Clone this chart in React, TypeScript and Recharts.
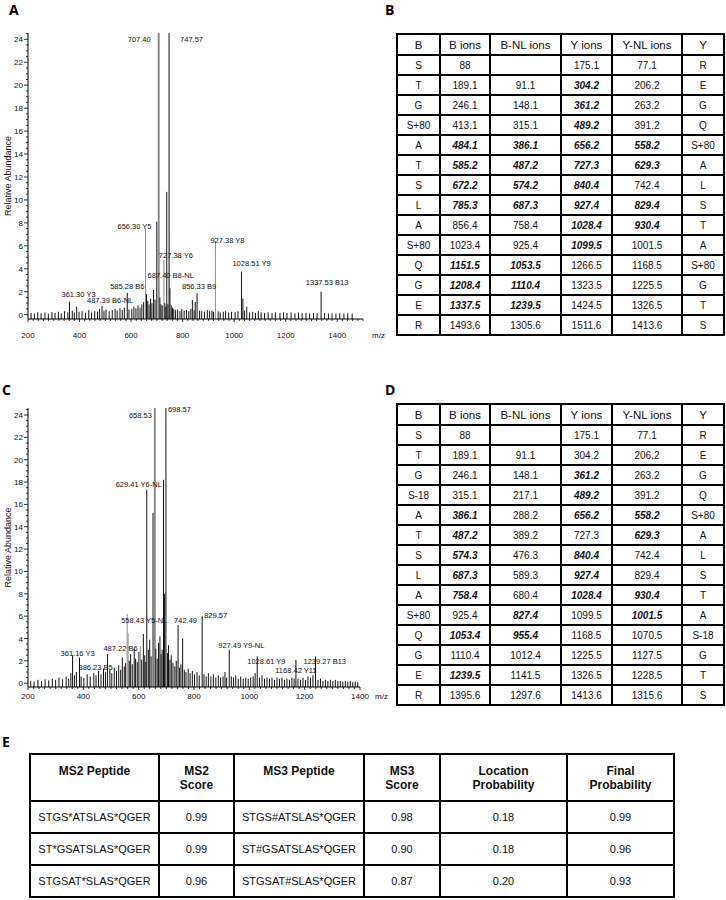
import React from "react";
import { ComposedChart, Bar, XAxis, YAxis, LabelList } from "recharts";

const FONT = "'Liberation Sans', Arial, sans-serif";
const LETTER_FONT = "'Open Sans', 'Noto Sans', sans-serif";

// ---------- panel A spectrum (m/z, relative abundance) ----------
const A_PEAKS: [number, number][] = [
  [361.3, 1.13], [389, 0.7], [487.39, 0.75], [585.28, 1.9], [656.3, 7.45],
  [660, 1.8], [687.4, 2.15], [700, 8.1], [707.4, 30], [727.38, 4.77],
  [738.6, 10.7], [747.57, 30], [751, 2.3], [838, 1.27], [856.33, 1.86],
  [927.38, 6.37], [1028.51, 3.75], [1049, 0.7], [1094, 0.3], [1337.53, 2.0],
];
const A_NOISE: [number, number][] = [
  [212, 0.15], [225, 0.1], [238, 0.2], [251, 0.12], [266, 0.18], [279, 0.1], [293, 0.22],
  [305, 0.15], [318, 0.25], [329, 0.12], [342, 0.3], [355, 0.2], [372, 0.35], [380, 0.2],
  [398, 0.25], [410, 0.3], [423, 0.18], [436, 0.4], [447, 0.2], [459, 0.3], [470, 0.25],
  [478, 0.5], [495, 0.35], [503, 0.45], [515, 0.3], [527, 0.4], [538, 0.5], [546, 0.35],
  [557, 0.55], [566, 0.4], [574, 0.6], [592, 0.45], [603, 0.5], [611, 0.7], [619, 0.55],
  [627, 0.8], [635, 0.6], [642, 0.9], [649, 1.1], [665, 1.2], [670, 0.9], [676, 1.4],
  [681, 1.0], [693, 1.3], [712, 1.5], [716, 0.9], [721, 0.8], [731, 1.0], [735, 0.7],
  [743, 0.9], [756, 0.8], [761, 0.6], [766, 0.5], [773, 0.4], [781, 0.45], [790, 0.3],
  [797, 0.5], [806, 0.35], [815, 0.4], [824, 0.3], [832, 0.5], [845, 0.4], [849, 1.1],
  [866, 0.35], [874, 0.3], [885, 0.25], [896, 0.4], [905, 0.3], [914, 0.35], [920, 0.25],
  [938, 0.3], [946, 0.2], [958, 0.25], [967, 0.3], [979, 0.2], [990, 0.25], [1004, 0.2],
  [1015, 0.3], [1034, 1.4], [1040, 0.35], [1060, 0.2], [1072, 0.25], [1083, 0.15],
  [1105, 0.2], [1118, 0.15], [1132, 0.2], [1147, 0.15], [1160, 0.2], [1178, 0.15],
  [1192, 0.2], [1205, 0.15], [1221, 0.2], [1236, 0.12], [1250, 0.18], [1264, 0.12],
  [1279, 0.15], [1293, 0.1], [1308, 0.15], [1322, 0.12], [1351, 0.15], [1366, 0.1],
  [1380, 0.12], [1395, 0.1], [1410, 0.12], [1426, 0.1], [1441, 0.12], [1458, 0.1],
];
const A_LABELS: [number, string][] = [
  [361.3, "361.30 Y3"], [487.39, "487.39 B6-NL"], [585.28, "585.28 B6"],
  [656.3, "656.30 Y5"], [687.4, "687.40 B8-NL"], [707.4, "707.40"],
  [727.38, "727.38 Y6"], [747.57, "747.57"], [856.33, "856.33 B9"],
  [927.38, "927.38 Y8"], [1028.51, "1028.51 Y9"], [1337.53, "1337.53 B13"],
];
const A_GREY = [656.3, 707.4, 727.38, 927.38];
const A_WIDE = [707.4];

// ---------- panel C spectrum ----------
const C_PEAKS: [number, number][] = [
  [361.16, 2.5], [386.23, 2.3], [487.22, 2.6], [558.43, 6.2], [562, 4.46],
  [617, 4.4], [629.41, 17.3], [652, 15.25], [658.53, 30], [689.8, 18.2],
  [692, 7.7], [694, 8.0], [698.57, 30], [742.49, 5.2], [759, 4.0],
  [829.57, 6.0], [927.49, 3.0], [1028.61, 2.4], [1168.42, 2.1], [1239.27, 2.4],
];
const C_NOISE: [number, number][] = [
  [210, 0.2], [222, 0.15], [236, 0.3], [249, 0.2], [262, 0.35], [275, 0.25], [288, 0.4],
  [300, 0.3], [312, 0.5], [325, 0.35], [338, 0.6], [347, 0.4], [355, 0.9], [368, 0.7],
  [375, 1.0], [392, 0.6], [402, 0.5], [414, 0.8], [425, 0.6], [438, 0.9], [446, 0.7],
  [455, 1.1], [464, 0.8], [473, 1.3], [480, 1.0], [496, 1.2], [503, 0.9], [512, 1.4],
  [520, 1.1], [528, 1.6], [535, 1.2], [541, 2.3], [548, 1.5], [553, 1.8], [566, 2.0],
  [571, 2.6], [577, 1.7], [584, 3.1], [589, 2.2], [595, 1.9], [601, 2.8], [606, 3.3],
  [611, 2.1], [622, 2.5], [626, 1.9], [635, 3.0], [640, 3.9], [645, 2.4], [662, 3.1],
  [667, 2.2], [672, 3.6], [677, 4.2], [681, 2.6], [685, 3.0], [704, 2.7], [708, 3.4],
  [713, 2.1], [718, 2.5], [724, 1.8], [731, 1.5], [736, 2.0], [748, 1.4], [753, 1.7],
  [765, 1.2], [771, 1.0], [779, 1.3], [786, 0.9], [794, 1.1], [802, 0.8], [811, 1.0],
  [819, 0.7], [836, 0.8], [844, 0.6], [852, 0.9], [861, 0.6], [870, 0.8], [879, 0.5],
  [888, 0.7], [896, 0.5], [905, 0.6], [912, 1.0], [918, 0.5], [935, 0.6], [943, 0.5],
  [951, 0.7], [960, 0.4], [969, 0.6], [978, 0.4], [987, 0.5], [996, 0.4], [1005, 0.5],
  [1014, 0.6], [1021, 0.9], [1037, 0.5], [1046, 0.7], [1055, 0.4], [1064, 0.5],
  [1073, 0.4], [1082, 0.5], [1091, 0.3], [1100, 0.5], [1109, 0.4], [1118, 0.5],
  [1127, 0.3], [1136, 0.4], [1145, 0.3], [1154, 0.5], [1162, 0.4], [1176, 0.4],
  [1185, 0.3], [1194, 0.5], [1203, 0.3], [1212, 0.6], [1221, 0.5], [1230, 0.7],
  [1248, 0.3], [1257, 0.4], [1266, 0.2], [1275, 0.3], [1284, 0.2], [1293, 0.3],
  [1302, 0.2], [1311, 0.3], [1320, 0.2], [1329, 0.2], [1338, 0.15], [1347, 0.2],
  [1356, 0.15], [1365, 0.2], [1374, 0.1], [1383, 0.15], [1392, 0.1],
];
const C_LABELS: [number, string][] = [
  [361.16, "361.16 Y3"], [386.23, "386.23 B5"], [487.22, "487.22 B6"],
  [558.43, "558.43 Y5-NL"], [629.41, "629.41 Y6-NL"], [658.53, "658.53"],
  [698.57, "698.57"], [742.49, "742.49"], [829.57, "829.57"],
  [927.49, "927.49 Y9-NL"], [1028.61, "1028.61 Y9"], [1168.42, "1168.42 Y11"],
  [1239.27, "1239.27 B13"],
];
const C_GREY = [558.43, 562, 606, 658.53, 676];
const C_WIDE = [658.53];

const X_MAJOR = [200, 400, 600, 800, 1000, 1200, 1400];
const Y_MAJOR = [0, 2, 4, 6, 8, 10, 12, 14, 16, 18, 20, 22, 24];

// label placement: [anchor, dx, dy] relative to the peak top
const A_LABEL_POS: Record<string, [string, number, number]> = {
  "361.30 Y3": ["start", -8, -5],
  "487.39 B6-NL": ["start", -15, -3],
  "585.28 B6": ["middle", 0, -4],
  "656.30 Y5": ["end", 6, 0],
  "687.40 B8-NL": ["start", -6, -12],
  "707.40": ["end", -8, 9],
  "727.38 Y6": ["start", -5, -2],
  "747.57": ["start", 11, 9],
  "856.33 B9": ["middle", 2, -4],
  "927.38 Y8": ["start", -5, 1],
  "1028.51 Y9": ["start", -9, -6],
  "1337.53 B13": ["middle", 6, -7],
};
const C_LABEL_POS: Record<string, [string, number, number]> = {
  "361.16 Y3": ["start", -12, 1],
  "386.23 B5": ["start", -1, 12],
  "487.22 B6": ["start", -4, -3],
  "558.43 Y5-NL": ["start", -6, 9],
  "629.41 Y6-NL": ["middle", -8, -3],
  "658.53": ["end", -3, 10],
  "698.57": ["start", 2, 4],
  "742.49": ["start", -4, -2],
  "829.57": ["start", 2, 2],
  "927.49 Y9-NL": ["start", -11, -2],
  "1028.61 Y9": ["start", -10, 8],
  "1168.42 Y11": ["middle", 0, 13],
  "1239.27 B13": ["start", -12, 8],
};

// ---------- tables B / D (values ending in * are matched ions, set bold italic) ----------
const ION_HEAD = ["B", "B ions", "B-NL ions", "Y ions", "Y-NL ions", "Y"];

const B_RES = ["S", "T", "G", "S+80", "A", "T", "S", "L", "A", "S+80", "Q", "G", "E", "R"];
const B_BION = ["88", "189.1", "246.1", "413.1", "484.1*", "585.2*", "672.2*", "785.3*", "856.4", "1023.4", "1151.5*", "1208.4*", "1337.5*", "1493.6"];
const B_BNL = ["", "91.1", "148.1", "315.1", "386.1*", "487.2*", "574.2*", "687.3*", "758.4", "925.4", "1053.5*", "1110.4*", "1239.5*", "1305.6"];
const B_YION = ["175.1", "304.2*", "361.2*", "489.2*", "656.2*", "727.3*", "840.4*", "927.4*", "1028.4*", "1099.5*", "1266.5", "1323.5", "1424.5", "1511.6"];
const B_YNL = ["77.1", "206.2", "263.2", "391.2", "558.2*", "629.3*", "742.4", "829.4*", "930.4*", "1001.5", "1168.5", "1225.5", "1326.5", "1413.6"];
const B_YRES = ["R", "E", "G", "Q", "S+80", "A", "L", "S", "T", "A", "S+80", "G", "T", "S"];

const D_RES = ["S", "T", "G", "S-18", "A", "T", "S", "L", "A", "S+80", "Q", "G", "E", "R"];
const D_BION = ["88", "189.1", "246.1", "315.1", "386.1*", "487.2*", "574.3*", "687.3*", "758.4*", "925.4", "1053.4*", "1110.4", "1239.5*", "1395.6"];
const D_BNL = ["", "91.1", "148.1", "217.1", "288.2", "389.2", "476.3", "589.3", "680.4", "827.4*", "955.4*", "1012.4", "1141.5", "1297.6"];
const D_YION = ["175.1", "304.2", "361.2*", "489.2*", "656.2*", "727.3", "840.4*", "927.4*", "1028.4*", "1099.5", "1168.5", "1225.5", "1326.5", "1413.6"];
const D_YNL = ["77.1", "206.2", "263.2", "391.2", "558.2*", "629.3*", "742.4", "829.4", "930.4*", "1001.5*", "1070.5", "1127.5", "1228.5", "1315.6"];
const D_YRES = ["R", "E", "G", "Q", "S+80", "A", "L", "S", "T", "A", "S-18", "G", "T", "S"];

// ---------- table E ----------
const E_HEAD = ["MS2 Peptide", "MS2\nScore", "MS3 Peptide", "MS3\nScore", "Location\nProbability", "Final\nProbability"];
const E_MS2_PEP = ["STGS*ATSLAS*QGER", "ST*GSATSLAS*QGER", "STGSAT*SLAS*QGER"];
const E_MS2_SCORE = ["0.99", "0.99", "0.96"];
const E_MS3_PEP = ["STGS#ATSLAS*QGER", "ST#GSATSLAS*QGER", "STGSAT#SLAS*QGER"];
const E_MS3_SCORE = ["0.98", "0.90", "0.87"];
const E_LOC_PROB = ["0.18", "0.18", "0.20"];
const E_FINAL_PROB = ["0.99", "0.96", "0.93"];

type SpecProps = {
  peaks: [number, number][];
  noise: [number, number][];
  labels: [number, string][];
  grey: number[];
  wide: number[];
  labelPos: Record<string, [string, number, number]>;
  xMax: number;
  yMin: number;
  yMax: number;
  width: number;
  height: number;
  margin: { top: number; right: number; left: number; bottom: number };
  tickGap: number;
  mzGap: number;
};

function Spectrum(p: SpecProps) {
  const data = [...p.peaks, ...p.noise]
    .sort((a, b) => a[0] - b[0])
    .map(([mz, i]) => {
      const lab = p.labels.find((l) => l[0] === mz);
      return {
        mz,
        r: [p.yMin, i],
        label: lab ? lab[1] : undefined,
        grey: p.grey.includes(mz),
        wide: p.wide.includes(mz),
      };
    });

  const xTicks: number[] = [];
  for (let v = 200; v <= p.xMax; v += 20) xTicks.push(v);
  const yTicks: number[] = [];
  for (let v = 0; v <= p.yMax; v += 0.5) yTicks.push(v);

  const XTick = (t: any) => {
    const major = X_MAJOR.includes(t.payload.value);
    return (
      <g>
        <line x1={t.x} x2={t.x} y1={t.y} y2={t.y + (major ? 3 : 2)} stroke="#000" strokeWidth={0.8} />
        {major && (
          <text x={t.x} y={t.y + p.tickGap} textAnchor="middle" fontSize={8} fontFamily={FONT} fill="#111">
            {t.payload.value}
          </text>
        )}
      </g>
    );
  };
  const YTick = (t: any) => {
    const major = Y_MAJOR.includes(t.payload.value);
    return (
      <g>
        <line x1={t.x - (major ? 4 : 2)} x2={t.x} y1={t.y} y2={t.y} stroke="#000" strokeWidth={0.8} />
        {major && (
          <text x={t.x - 5} y={t.y + 3} textAnchor="end" fontSize={8} fontFamily={FONT} fill="#111">
            {t.payload.value}
          </text>
        )}
      </g>
    );
  };

  const shape = (s: any) => {
    const w = s.payload.wide ? 2 : 1;
    return (
      <rect
        x={s.x + s.width / 2 - w / 2}
        y={s.y}
        width={w}
        height={Math.max(s.height, 0)}
        fill={s.payload.grey ? "#8c8c8c" : "#111"}
      />
    );
  };

  const renderLabel = (l: any) => {
    if (!l.value) return null;
    const vb = l.viewBox;
    const pos = p.labelPos[l.value];
    if (!vb || !pos) return null;
    const cx = vb.x + vb.width / 2;
    const top = Math.max(vb.y, p.margin.top);
    return (
      <text x={cx + pos[1]} y={top + pos[2]} textAnchor={pos[0] as any} fontSize={7.5} fontFamily={FONT} fill="#111">
        {l.value}
      </text>
    );
  };

  return (
    <ComposedChart width={p.width} height={p.height} data={data} margin={p.margin}>
      <XAxis
        type="number"
        dataKey="mz"
        domain={[200, p.xMax]}
        ticks={xTicks}
        interval={0}
        allowDataOverflow
        tickLine={false}
        tickSize={0}
        tickMargin={0}
        height={27}
        axisLine={{ stroke: "#000", strokeWidth: 1 }}
        tick={XTick}
        label={(lp: any) => (
          <text
            x={lp.viewBox.x + lp.viewBox.width + p.mzGap}
            y={lp.viewBox.y + p.tickGap}
            fontSize={8}
            fontFamily={FONT}
            fill="#111"
          >
            m/z
          </text>
        )}
      />
      <YAxis
        type="number"
        domain={[p.yMin, p.yMax]}
        ticks={yTicks}
        interval={0}
        allowDataOverflow
        width={28}
        tickLine={false}
        tickSize={0}
        tickMargin={0}
        axisLine={{ stroke: "#000", strokeWidth: 1 }}
        tick={YTick}
        label={(lp: any) => {
          const x = lp.viewBox.x + 8;
          const y = lp.viewBox.y + lp.viewBox.height / 2;
          return (
            <text x={x} y={y} transform={`rotate(-90 ${x} ${y})`} textAnchor="middle" dominantBaseline="central" fontSize={9} fontFamily={FONT} fill="#111">
              Relative Abundance
            </text>
          );
        }}
      />
      <Bar dataKey="r" barSize={1} shape={shape} isAnimationActive={false}>
        <LabelList dataKey="label" content={renderLabel} />
      </Bar>
    </ComposedChart>
  );
}

const cellBase: React.CSSProperties = {
  border: "2px solid #000",
  padding: 0,
  textAlign: "center",
  verticalAlign: "middle",
  fontFamily: FONT,
  color: "#111",
};

function IonTable({ left, top, cols }: { left: number; top: number; cols: string[][] }) {
  const widths = [43, 50, 71, 51, 70, 42];
  const rows = cols[0].map((_, r) => cols.map((c) => c[r]));
  return (
    <table
      style={{
        position: "absolute",
        left,
        top,
        borderCollapse: "collapse",
        tableLayout: "fixed",
        width: widths.reduce((a, b) => a + b, 0),
      }}
    >
      <colgroup>
        {widths.map((w, i) => (
          <col key={i} style={{ width: w }} />
        ))}
      </colgroup>
      <tbody>
        <tr style={{ height: 21 }}>
          {ION_HEAD.map((h) => (
            <td key={h} style={{ ...cellBase, fontSize: 11.5 }}>
              {h}
            </td>
          ))}
        </tr>
        {rows.map((row, r) => (
          <tr key={r} style={{ height: 20 }}>
            {row.map((v, c) => {
              const hit = v.endsWith("*");
              return (
                <td
                  key={c}
                  style={{
                    ...cellBase,
                    fontSize: 10,
                    fontWeight: hit ? "bold" : "normal",
                    fontStyle: hit ? "italic" : "normal",
                  }}
                >
                  {hit ? v.slice(0, -1) : v}
                </td>
              );
            })}
          </tr>
        ))}
      </tbody>
    </table>
  );
}

function ScoreTable() {
  const widths = [129, 75, 130, 76, 127, 107];
  const cols = [E_MS2_PEP, E_MS2_SCORE, E_MS3_PEP, E_MS3_SCORE, E_LOC_PROB, E_FINAL_PROB];
  const rows = E_MS2_PEP.map((_, r) => cols.map((c) => c[r]));
  return (
    <table
      style={{
        position: "absolute",
        left: 29,
        top: 753,
        borderCollapse: "collapse",
        tableLayout: "fixed",
        width: widths.reduce((a, b) => a + b, 0),
      }}
    >
      <colgroup>
        {widths.map((w, i) => (
          <col key={i} style={{ width: w }} />
        ))}
      </colgroup>
      <tbody>
        <tr style={{ height: 47 }}>
          {E_HEAD.map((h) => (
            <td
              key={h}
              style={{ ...cellBase, fontSize: 12, fontWeight: "bold", verticalAlign: "top", paddingTop: 9, lineHeight: "14px" }}
            >
              {h.split("\n").map((s, i) => (
                <div key={i}>{s}</div>
              ))}
            </td>
          ))}
        </tr>
        {rows.map((row, r) => (
          <tr key={r} style={{ height: 32 }}>
            {row.map((v, c) => (
              <td key={c} style={{ ...cellBase, fontSize: 11 }}>
                {v}
              </td>
            ))}
          </tr>
        ))}
      </tbody>
    </table>
  );
}

const letter = (ch: string, left: number, top: number) => (
  <div
    style={{
      position: "absolute",
      left,
      top,
      fontFamily: LETTER_FONT,
      fontWeight: 700,
      fontSize: 14,
      lineHeight: "19px",
      color: "#000",
    }}
  >
    {ch}
  </div>
);

export default function App() {
  return (
    <div style={{ position: "absolute", left: 0, top: 0, width: 726, height: 900, background: "#fff", overflow: "hidden" }}>
      {letter("A", 9, 0)}
      {letter("B", 385, 0)}
      {letter("C", 2, 380)}
      {letter("D", 385, 380)}
      {letter("E", 2, 732)}

      <div style={{ position: "absolute", left: 0, top: 0 }}>
        <Spectrum
          peaks={A_PEAKS}
          noise={A_NOISE}
          labels={A_LABELS}
          grey={A_GREY}
          wide={A_WIDE}
          labelPos={A_LABEL_POS}
          xMax={1500}
          yMin={-0.38}
          yMax={24.55}
          width={390}
          height={346}
          margin={{ top: 33, right: 27, left: 0, bottom: 0 }}
          tickGap={19}
          mzGap={9}
        />
      </div>
      <div style={{ position: "absolute", left: 0, top: 375 }}>
        <Spectrum
          peaks={C_PEAKS}
          noise={C_NOISE}
          labels={C_LABELS}
          grey={C_GREY}
          wide={C_WIDE}
          labelPos={C_LABEL_POS}
          xMax={1400}
          yMin={-0.34}
          yMax={24.63}
          width={390}
          height={339}
          margin={{ top: 33, right: 30, left: 0, bottom: 0 }}
          tickGap={12}
          mzGap={15}
        />
      </div>

      <IonTable left={396} top={33} cols={[B_RES, B_BION, B_BNL, B_YION, B_YNL, B_YRES]} />
      <IonTable left={396} top={403} cols={[D_RES, D_BION, D_BNL, D_YION, D_YNL, D_YRES]} />
      <ScoreTable />
    </div>
  );
}
